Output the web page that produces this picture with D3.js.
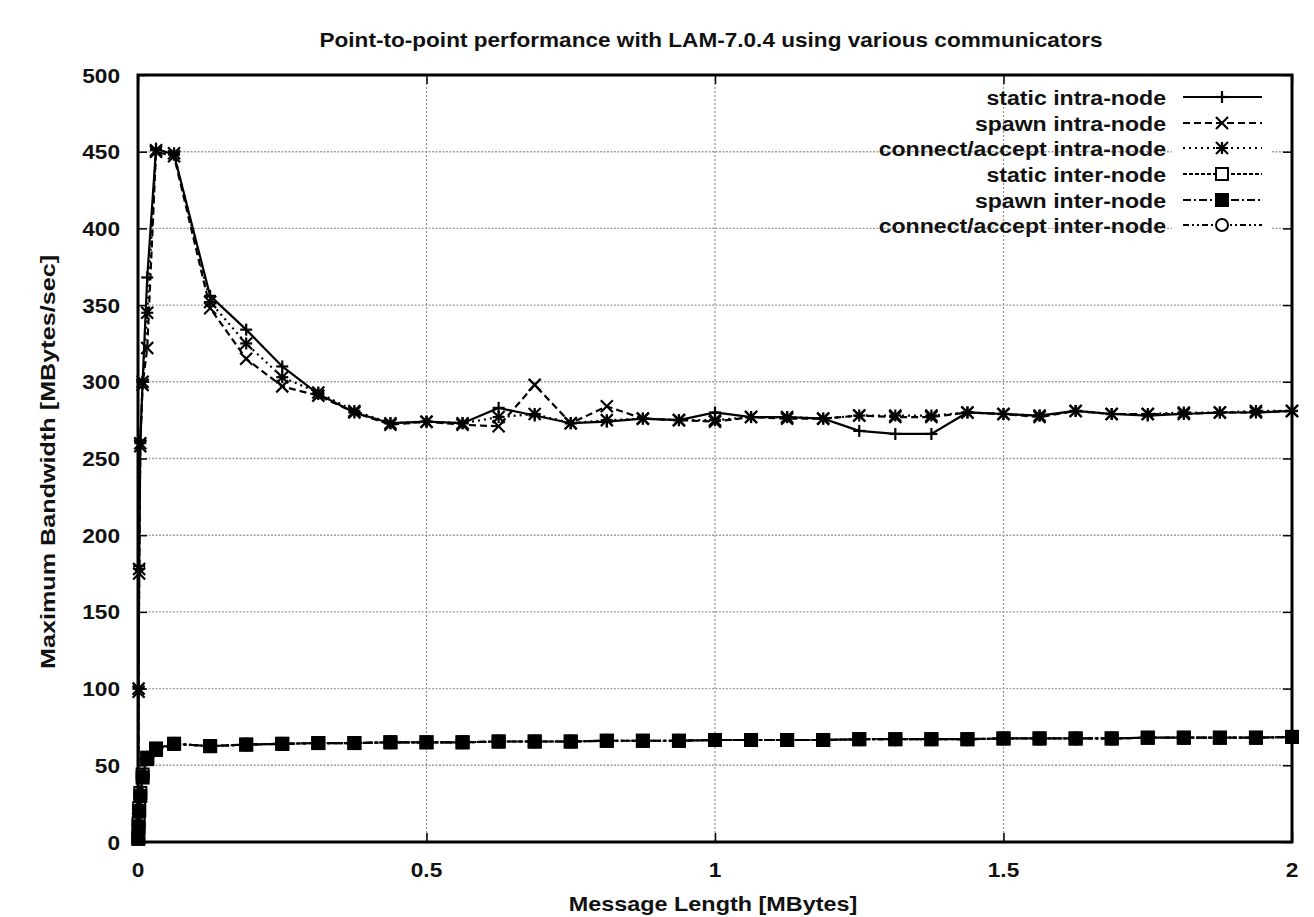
<!DOCTYPE html>
<html>
<head>
<meta charset="utf-8">
<script src="https://cdn.jsdelivr.net/npm/d3@7"></script>
<style>
  html, body { margin: 0; padding: 0; background: #fff; }
  svg { display: block; }
  text { font-family: "Liberation Sans", Arial, sans-serif; fill: #111; }
</style>
</head>
<body>
<svg id="chart" width="1314" height="917"></svg>
<script>
// Message sizes (MBytes): small messages near zero, then 64 KB steps up to 2 MB
const smallSizes = [0.0005, 0.001, 0.002, 0.004, 0.008, 0.016, 0.03125];
const stepSizes = [0.0625, 0.125, 0.1875, 0.25, 0.3125, 0.375, 0.4375, 0.5,
  0.5625, 0.625, 0.6875, 0.75, 0.8125, 0.875, 0.9375, 1.0,
  1.0625, 1.125, 1.1875, 1.25, 1.3125, 1.375, 1.4375, 1.5,
  1.5625, 1.625, 1.6875, 1.75, 1.8125, 1.875, 1.9375, 2.0];
const messageSizes = smallSizes.concat(stepSizes);

// Maximum bandwidth (MBytes/sec) for each communicator type
const staticIntra = [20, 100, 180, 262, 300, 368, 452,
  448, 356, 334, 310, 292, 280, 273, 274, 273, 283, 278, 273, 274, 276, 275, 280,
  277, 277, 276, 268, 266, 266, 280, 279, 278, 281, 279, 278, 279, 280, 280, 281];
const spawnIntra = [15, 98, 175, 258, 298, 322, 450,
  447, 348, 315, 297, 291, 280, 272, 274, 272, 271, 298, 273, 284, 276, 275, 274,
  277, 276, 276, 278, 277, 277, 280, 279, 277, 281, 279, 279, 279, 280, 280, 281];
const connectIntra = [18, 100, 178, 260, 300, 345, 451,
  449, 352, 325, 303, 293, 281, 273, 274, 273, 277, 279, 273, 275, 276, 275, 275,
  277, 277, 276, 278, 278, 278, 280, 279, 278, 281, 279, 279, 280, 280, 281, 281];
const staticInter = [3, 12, 22, 32, 44, 55, 60,
  64, 62.5, 63.5, 64, 64.5, 64.5, 65, 65, 65, 65.5, 65.5, 65.5, 66, 66, 66, 66.5,
  66.5, 66.5, 66.5, 67, 67, 67, 67, 67.5, 67.5, 67.5, 67.5, 68, 68, 68, 68, 68.5];
const spawnInter = [2, 10, 20, 30, 42, 54, 61,
  64, 62.5, 63.5, 64, 64.5, 64.5, 65, 65, 65, 65.5, 65.5, 65.5, 66, 66, 66, 66.5,
  66.5, 66.5, 66.5, 67, 67, 67, 67, 67.5, 67.5, 67.5, 67.5, 68, 68, 68, 68, 68.5];
const connectInter = [2, 11, 21, 31, 43, 55, 60,
  64, 62.5, 63.5, 64, 64.5, 64.5, 65, 65, 65, 65.5, 65.5, 65.5, 66, 66, 66, 66.5,
  66.5, 66.5, 66.5, 67, 67, 67, 67, 67.5, 67.5, 67.5, 67.5, 68, 68, 68, 68, 68.5];

const seriesNames = ["static intra-node", "spawn intra-node", "connect/accept intra-node",
  "static inter-node", "spawn inter-node", "connect/accept inter-node"];
const seriesValues = [staticIntra, spawnIntra, connectIntra, staticInter, spawnInter, connectInter];
const seriesDash = ["none", "7,4", "2,4", "4,2", "8,3,2,3", "6,3,2,3,2,3"];
const seriesMarker = ["plus", "cross", "star", "openSquare", "filledSquare", "openCircle"];
// drawing order: filled squares end up on top of the inter-node group
const drawOrder = [0, 1, 2, 3, 5, 4];

const xTicks = [0, 0.5, 1, 1.5, 2];
const xTickLabels = ["0", "0.5", "1", "1.5", "2"];
const yTicks = [0, 50, 100, 150, 200, 250, 300, 350, 400, 450, 500];

const title = "Point-to-point performance with LAM-7.0.4 using various communicators";
const xLabel = "Message Length [MBytes]";
const yLabel = "Maximum Bandwidth [MBytes/sec]";

const svg = d3.select("#chart");
const plotLeft = 138, plotRight = 1292, plotTop = 75, plotBottom = 842;

const x = d3.scaleLinear().domain([0, 2]).range([plotLeft, plotRight]);
const y = d3.scaleLinear().domain([0, 500]).range([plotBottom, plotTop]);

// Text helper: wide, heavy lettering (horizontally stretched glyphs)
function label(parent, tx, ty, str, size, stretch, anchor, rotate) {
  const rot = rotate ? ` rotate(${rotate})` : "";
  return parent.append("text")
    .attr("transform", `translate(${tx},${ty})${rot} scale(${stretch},1)`)
    .attr("text-anchor", anchor)
    .style("font-size", size + "px").style("font-weight", "bold")
    .text(str);
}

// Grid
const grid = svg.append("g");
grid.selectAll("line.h").data(yTicks.slice(1, -1)).join("line")
  .attr("x1", plotLeft).attr("x2", plotRight)
  .attr("y1", d => y(d)).attr("y2", d => y(d))
  .attr("stroke", "#a0a0a0").attr("stroke-width", 1.4).attr("stroke-dasharray", "2,1.5");
grid.selectAll("line.v").data(xTicks.slice(1, -1)).join("line")
  .attr("x1", d => x(d)).attr("x2", d => x(d))
  .attr("y1", plotTop).attr("y2", plotBottom)
  .attr("stroke", "#909090").attr("stroke-width", 1.2).attr("stroke-dasharray", "2,2");

// Axes (inward ticks, mirrored on the opposite border)
const yAxisL = d3.axisLeft(y).tickValues(yTicks).tickSize(-9).tickFormat("");
const yAxisR = d3.axisRight(y).tickValues(yTicks).tickSize(-9).tickFormat("");
const xAxisB = d3.axisBottom(x).tickValues(xTicks).tickSize(-9).tickFormat("");
const xAxisT = d3.axisTop(x).tickValues(xTicks).tickSize(-9).tickFormat("");

function styleAxis(g) {
  g.select(".domain").remove();
  g.selectAll(".tick line").attr("stroke", "#000").attr("stroke-width", 1.5);
}
svg.append("g").attr("transform", `translate(${plotLeft},0)`).call(yAxisL).call(styleAxis);
svg.append("g").attr("transform", `translate(${plotRight},0)`).call(yAxisR).call(styleAxis);
svg.append("g").attr("transform", `translate(0,${plotBottom})`).call(xAxisB).call(styleAxis);
svg.append("g").attr("transform", `translate(0,${plotTop})`).call(xAxisT).call(styleAxis);

// Tick labels placed from the same scales
const tickLabels = svg.append("g");
yTicks.forEach(t => label(tickLabels, plotLeft - 18, y(t) + 7.5, String(t), 21, 1.08, "end"));
xTicks.forEach((t, i) => label(tickLabels, x(t), plotBottom + 35, xTickLabels[i], 21, 1.08, "middle"));

// Marker drawing
function drawMarker(g, type, cx, cy) {
  const s = 6;
  if (type === "plus" || type === "star") {
    g.append("line").attr("x1", cx - s).attr("x2", cx + s).attr("y1", cy).attr("y2", cy)
      .attr("stroke", "#000").attr("stroke-width", 2.2);
    g.append("line").attr("x1", cx).attr("x2", cx).attr("y1", cy - s).attr("y2", cy + s)
      .attr("stroke", "#000").attr("stroke-width", 2.2);
  }
  if (type === "cross" || type === "star") {
    g.append("line").attr("x1", cx - s).attr("x2", cx + s).attr("y1", cy - s).attr("y2", cy + s)
      .attr("stroke", "#000").attr("stroke-width", 2.2);
    g.append("line").attr("x1", cx - s).attr("x2", cx + s).attr("y1", cy + s).attr("y2", cy - s)
      .attr("stroke", "#000").attr("stroke-width", 2.2);
  }
  if (type === "openSquare" || type === "filledSquare") {
    g.append("rect").attr("x", cx - s).attr("y", cy - s).attr("width", 2 * s).attr("height", 2 * s)
      .attr("fill", type === "filledSquare" ? "#000" : "#fff")
      .attr("stroke", "#000").attr("stroke-width", 2);
  }
  if (type === "openCircle") {
    g.append("circle").attr("cx", cx).attr("cy", cy).attr("r", s)
      .attr("fill", "#fff").attr("stroke", "#000").attr("stroke-width", 2);
  }
}

const plot = svg.append("g");
const line = d3.line().x(d => x(d[0])).y(d => y(d[1]));

drawOrder.forEach(si => {
  const vals = seriesValues[si];
  const pts = messageSizes.map((m, i) => [m, vals[i]]);
  const g = plot.append("g");
  g.append("path").datum(pts).attr("d", line)
    .attr("fill", "none").attr("stroke", "#000").attr("stroke-width", 2.2)
    .attr("stroke-dasharray", seriesDash[si]);
  pts.forEach(p => drawMarker(g, seriesMarker[si], x(p[0]), y(p[1])));
});

// Border
svg.append("rect").attr("x", plotLeft).attr("y", plotTop)
  .attr("width", plotRight - plotLeft).attr("height", plotBottom - plotTop)
  .attr("fill", "none").attr("stroke", "#000").attr("stroke-width", 3);

// Legend
const legendY = [97, 123, 148, 174, 200, 225];
const legend = svg.append("g");
seriesNames.forEach((name, i) => {
  const ly = legendY[i];
  legend.append("rect").attr("x", 1172).attr("y", ly - 10).attr("width", 100).attr("height", 20)
    .attr("fill", "#fff");
  label(legend, 1166, ly + 7.5, name, 21, 1.1, "end");
  legend.append("line").attr("x1", 1183).attr("x2", 1262).attr("y1", ly).attr("y2", ly)
    .attr("stroke", "#000").attr("stroke-width", 2).attr("stroke-dasharray", seriesDash[i]);
  drawMarker(legend, seriesMarker[i], 1222, ly);
});

// Titles
label(svg, 711, 47, title, 20, 1.13, "middle");
label(svg, 713, 911, xLabel, 20, 1.17, "middle");
label(svg, 55, 462, yLabel, 20, 1.26, "middle", -90);
</script>
</body>
</html>
